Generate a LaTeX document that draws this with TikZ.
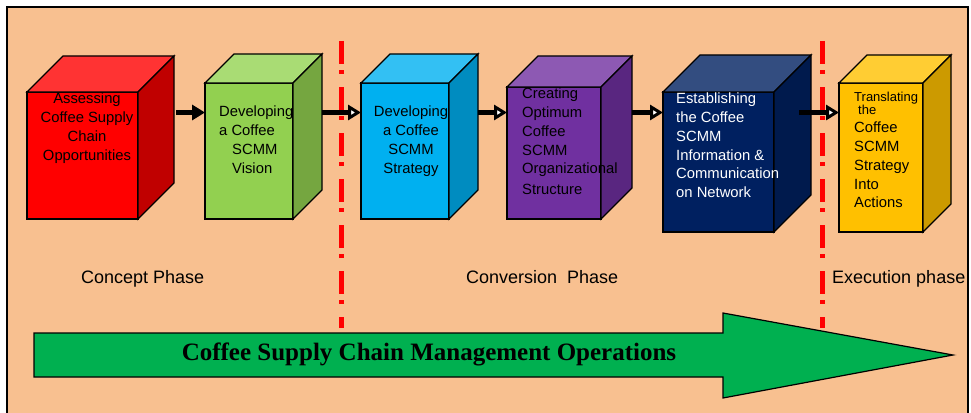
\documentclass[tikz,border=0pt]{standalone}
\usepackage{fontspec}
\setmainfont{Liberation Sans}
\newfontfamily\titlefont{Liberation Serif}
\usepackage{xcolor}
\usetikzlibrary{calc, arrows.meta}

\definecolor{peach}{RGB}{248,192,144}
\definecolor{redfront}{RGB}{255,0,0}
\definecolor{redtop}{RGB}{255,51,51}
\definecolor{redside}{RGB}{192,0,0}
\definecolor{greenfront}{RGB}{146,208,80}
\definecolor{greentop}{RGB}{169,220,116}
\definecolor{greenside}{RGB}{117,166,64}
\definecolor{bluefront}{RGB}{0,176,240}
\definecolor{bluetop}{RGB}{51,192,243}
\definecolor{blueside}{RGB}{0,140,192}
\definecolor{purplefront}{RGB}{112,48,160}
\definecolor{purpletop}{RGB}{141,89,179}
\definecolor{purpleside}{RGB}{89,38,128}
\definecolor{navyfront}{RGB}{0,32,96}
\definecolor{navytop}{RGB}{51,77,128}
\definecolor{navyside}{RGB}{0,26,77}
\definecolor{goldfront}{RGB}{255,192,0}
\definecolor{goldtop}{RGB}{255,205,51}
\definecolor{goldside}{RGB}{204,154,0}
\definecolor{opsgreen}{RGB}{0,176,80}
\definecolor{phasered}{RGB}{255,0,0}

% top and right side of a box: node, depth, top colour, side colour
\newcommand{\cubesides}[4]{%
  \draw [face, fill=#3] (#1.north west) -- ++(#2,-#2) -- ([shift={(#2,-#2)}]#1.north east) -- (#1.north east) -- cycle;
  \draw [face, fill=#4] (#1.north east) -- ++(#2,-#2) -- ([shift={(#2,-#2)}]#1.south east) -- (#1.south east) -- cycle;}

\begin{document}
\begin{tikzpicture}[x = 1pt, y = -1pt,
    face/.style = {draw = black, line width = 1.3pt, line join = miter, inner sep = 0pt, outer sep = 0pt},
    boxtext/.style = {inner sep = 0pt, align = left, font = \fontsize{14.8}{18.7}\selectfont},
    phasetext/.style = {inner sep = 0pt, anchor = north west, font = \fontsize{18}{22}\selectfont},
    phaseline/.style = {phasered, line width = 5pt, dash pattern = on 23pt off 6pt on 4pt off 13pt},
    flow/.style = {line width = 5pt, -{Triangle[length = 13pt, width = 15pt, line width = 3pt, fill = white]}},
    flowsolid/.style = {line width = 5pt, -{Triangle[length = 13pt, width = 15pt]}}]
	\def\flowY{112.5};

	\useasboundingbox (0,0) rectangle (971,412);
	\fill [white] (0,0) rectangle (971,412);
	\fill [peach] (7,7) rectangle (968,430);

	\coordinate (level) at (0,\flowY);

	% phase border, concept / conversion
	\draw [phaseline] (341,41) -- (341,328);

	% boxes
	\begin{scope}
		\node [face, fill = redfront, minimum width = 111, minimum height = 127] (assess) at (82.5,155.5) {};
		\cubesides{assess}{36}{redtop}{redside}
		\node [face, fill = greenfront, minimum width = 88, minimum height = 136] (vision) at (249,151) {};
		\cubesides{vision}{29}{greentop}{greenside}
		\node [face, fill = bluefront, minimum width = 88, minimum height = 136] (strategy) at (405,151) {};
		\cubesides{strategy}{29}{bluetop}{blueside}
		\node [face, fill = purplefront, minimum width = 94, minimum height = 132] (structure) at (554,153) {};
		\cubesides{structure}{31}{purpletop}{purpleside}
		\node [face, fill = navyfront, minimum width = 111, minimum height = 140] (network) at (718.5,162) {};
		\cubesides{network}{37}{navytop}{navyside}
		\node [face, fill = goldfront, minimum width = 84, minimum height = 149] (actions) at (881,157.5) {};
		\cubesides{actions}{28}{goldtop}{goldside}
	\end{scope}

	% box texts
	\begin{scope}
		\node [boxtext, align = center, anchor = north] (assess text) at (87,93) {Assessing\\Coffee Supply\\Chain\\Opportunities};
		\node [boxtext, anchor = north west] (vision text) at (219,106) {Developing\\a Coffee\\\hspace*{13pt}SCMM\\\hspace*{13pt}Vision};
		\node [boxtext, align = center, anchor = north] (strategy text) at (411,106) {Developing\\a Coffee\\SCMM\\Strategy};
		\node [boxtext, anchor = north west] (structure text) at (522,88) {Creating\\Optimum\\Coffee\\SCMM\\Organizational\\[2pt]Structure};
		\node [boxtext, anchor = north west, white] (network text) at (676,93) {Establishing\\the Coffee\\SCMM\\Information \&\\Communication\\on Network};
		\node [boxtext, anchor = north west, font = \fontsize{13}{11}\selectfont] (actions head) at (854,92) {Translating\\\hspace*{4pt}the};
		\node [boxtext, anchor = north west] (actions text) at (854,122) {Coffee\\SCMM\\Strategy\\Into\\Actions};
	\end{scope}

	% connectors
	\coordinate (assess side) at ([xshift = 38pt]assess.east);
	\coordinate (network side) at ([xshift = 25pt]network.east);
	\draw [flowsolid] (assess side |- level) -- (vision.west |- level);
	\draw [flow] ([xshift = 29pt]vision.east |- level) -- (strategy.west |- level);
	\draw [flow] ([xshift = 29pt]strategy.east |- level) -- (structure.west |- level);
	\draw [flow] ([xshift = 31pt]structure.east |- level) -- (network.west |- level);
	\draw [flow] (network side |- level) -- (actions.west |- level);

	% phase border, conversion / execution
	\draw [phaseline] (822,41) -- (822,328);

	% phases
	\node [phasetext] (concept) at (81,270) {Concept Phase};
	\node [phasetext] (conversion) at (466,270) {Conversion\ \ Phase};
	\node [phasetext] (execution) at (832,270) {Execution phase};

	% operations arrow
	\draw [fill = opsgreen, line width = 1.2pt, line join = miter]
		(34,333) -- (723,333) -- (723,313) -- (953,355) -- (723,398) -- (723,377) -- (34,377) -- cycle;
	\node [inner sep = 0pt, anchor = base, font = \titlefont\bfseries\fontsize{25}{30}\selectfont] (operations) at (429,360)
		{Coffee Supply Chain Management Operations};

	\draw [line width = 2pt] (7,430) -- (7,7) -- (968,7) -- (968,430);
\end{tikzpicture}
\end{document}
